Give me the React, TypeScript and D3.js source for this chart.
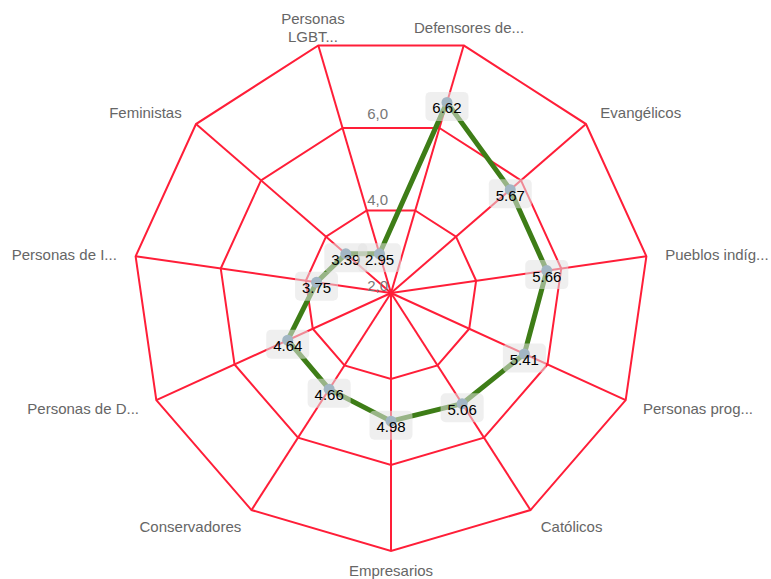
import * as d3 from "d3"

// categories in drawing order, clockwise starting just right of the top
const categories = [
  "Defensores de...",
  "Evangélicos",
  "Pueblos indíg...",
  "Personas prog...",
  "Católicos",
  "Empresarios",
  "Conservadores",
  "Personas de D...",
  "Personas de I...",
  "Feministas",
  "Personas\nLGBT...",
]
const values = [6.62, 5.67, 5.66, 5.41, 5.06, 4.98, 4.66, 4.64, 3.75, 3.39, 2.95]
const ringTicks = [4, 6, 8]
const tickLabels = [2, 4, 6]

const width = 771
const height = 579
const cx = 391
const cy = 293
const radius = 258
const labelGap = 19
const font = "'Liberation Sans', Arial, Helvetica, sans-serif"
const gridColor = "#ff1e38"
const lineColor = "#3e7d17"

const App = () => {
  const r = d3.scaleLinear().domain([2, 8]).range([0, radius])
  const n = categories.length
  const angle = d3
    .scaleLinear()
    .domain([0, n])
    .range([Math.PI / n, Math.PI / n + 2 * Math.PI])

  const pt = (i: number, rad: number): [number, number] => {
    const a = angle(i)
    return [cx + rad * Math.sin(a), cy - rad * Math.cos(a)]
  }

  const ring = (rad: number) => d3.range(n).map((i) => pt(i, rad).join(",")).join(" ")

  const seriesPoints = values.map((v, i) => pt(i, r(v)))
  const linePath = d3.line().curve(d3.curveLinearClosed)(seriesPoints) || ""

  // Highcharts-like label alignment
  const anchorFor = (i: number) => {
    const deg = (angle(i) * 180) / Math.PI
    if (deg > 20 && deg < 160) return "start"
    if (deg > 200 && deg < 340) return "end"
    return "middle"
  }

  return (
    <div style={{ position: "absolute", left: 0, top: 0 }}>
      <svg width={width} height={height} style={{ display: "block" }}>
        <rect width={width} height={height} fill="#fff" />
        {/* grid polygons */}
        {ringTicks.map((t) => (
          <polygon key={t} points={ring(r(t))} fill="none" stroke={gridColor} strokeWidth={2} />
        ))}
        {/* spokes */}
        {categories.map((c, i) => {
          const [x, y] = pt(i, radius)
          return <line key={c} x1={cx} y1={cy} x2={x} y2={y} stroke={gridColor} strokeWidth={2} />
        })}
        {/* radial tick labels */}
        {tickLabels.map((t) => (
          <text
            key={t}
            x={cx - 3}
            y={cy - r(t) - 2}
            textAnchor="end"
            fontFamily={font}
            fontSize={15}
            fill="#777"
          >
            {d3.format(".1f")(t).replace(".", ",")}
          </text>
        ))}
        {/* category labels */}
        {categories.map((c, i) => {
          const [x, y] = pt(i, radius + labelGap)
          const lines = c.split("\n")
          const lh = 18
          return (
            <text
              key={c}
              x={x}
              y={y}
              textAnchor={anchorFor(i)}
              fontFamily={font}
              fontSize={15}
              fill="#666"
            >
              {lines.map((l, k) => (
                <tspan key={k} x={x} dy={k === 0 ? 6 - ((lines.length - 1) * lh) / 2 : lh}>
                  {l}
                </tspan>
              ))}
            </text>
          )
        })}
        {/* series line */}
        <path d={linePath} fill="none" stroke={lineColor} strokeWidth={5} strokeLinejoin="round" />
        {/* data labels */}
        {values.map((v, i) => {
          const [x, y] = seriesPoints[i]
          return (
            <g key={i}>
              <rect
                x={x - 21.5}
                y={y - 10.5}
                width={43}
                height={29}
                rx={5}
                fill="rgba(225,225,225,0.55)"
              />
              <circle cx={x} cy={y} r={5.5} fill="#a2b6c4" />
              <text
                x={x}
                y={y + 11}
                textAnchor="middle"
                fontFamily={font}
                fontSize={15}
                fill="#000"
              >
                {v.toFixed(2)}
              </text>
            </g>
          )
        })}
      </svg>
    </div>
  )
}

export default App
